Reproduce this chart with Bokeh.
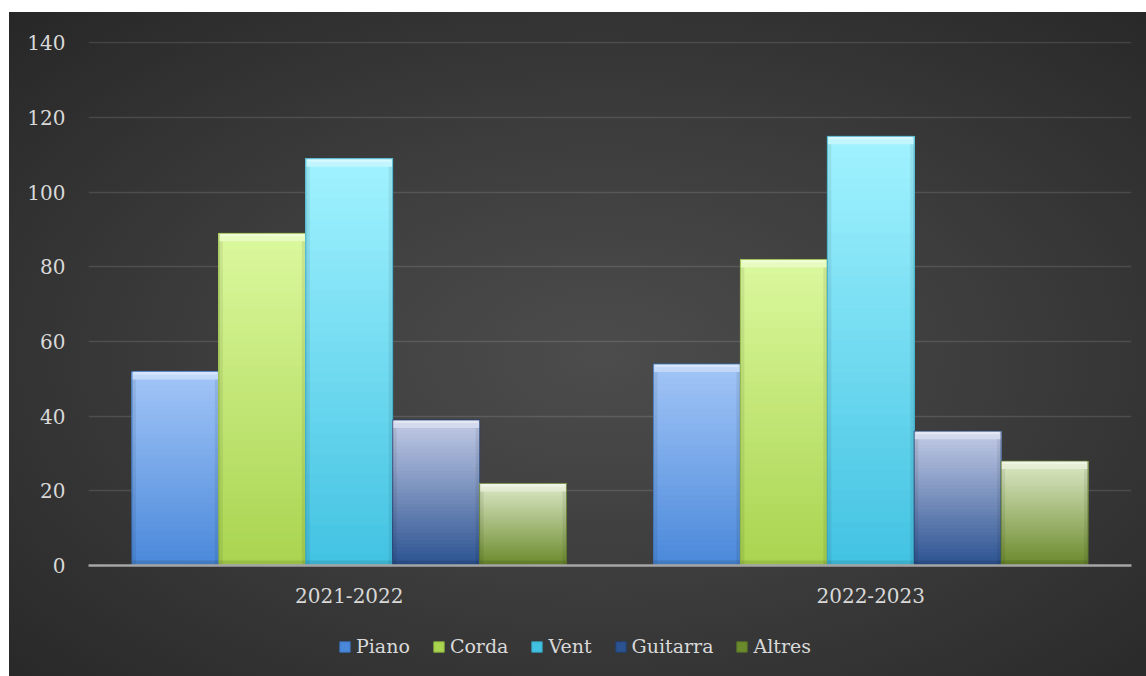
from bokeh.plotting import figure
from bokeh.models import (FactorRange, Range1d, ColumnDataSource, Legend, LegendItem,
                          FixedTicker, Spacer)
from bokeh.transform import dodge
from bokeh.layouts import column, row
from bokeh.embed import file_html
from bokeh.resources import INLINE

# ---- data ----
categories = ["2021-2022", "2022-2023"]
series_names = ["Piano", "Corda", "Vent", "Guitarra", "Altres"]
piano = [52, 54]
corda = [89, 82]
vent = [109, 115]
guitarra = [39, 36]
altres = [22, 28]
y_ticks = [0, 20, 40, 60, 80, 100, 120, 140]

series_values = [piano, corda, vent, guitarra, altres]
# (top colour, bottom colour) of each series' gradient
top_colors = ["#a3c6f7", "#dbf89e", "#a2f3ff", "#c3cce6", "#dde9c8"]
bottom_colors = ["#4a88da", "#a9d44f", "#42c2e2", "#2b5291", "#6b8a2c"]
edge_colors = ["#3a6fb5", "#8aae3e", "#34a0bb", "#22406f", "#56702a"]

FONT = "DejaVu Serif"
TEXT_COLOR = "#d9d9d9"
W = 1137


def hex2rgb(h):
    h = h.lstrip("#")
    return tuple(int(h[i:i + 2], 16) for i in (0, 2, 4))


def mix(c1, c2, t):
    a, b = hex2rgb(c1), hex2rgb(c2)
    return "#%02x%02x%02x" % tuple(int(round(a[i] + (b[i] - a[i]) * t)) for i in range(3))


p = figure(width=W, height=608, x_range=FactorRange(factors=categories, range_padding=0),
           y_range=Range1d(0, 140.4), output_backend="svg", toolbar_location=None,
           min_border_left=79, min_border_right=15, min_border_top=29, min_border_bottom=55)
p.border_fill_color = None
p.background_fill_color = None
p.outline_line_color = None

bar_w = 1.0 / 6.0
offsets = [-2 * bar_w, -bar_w, 0.0, bar_w, 2 * bar_w]
N = 40
px_per_unit = 524.0 / 140.4
bevel_top = 8.0 / px_per_unit
bevel_hi = 3.0 / px_per_unit
bevel_bottom = 5.0 / px_per_unit
side_w = bar_w * 4.0 / 87.0

for j, name in enumerate(series_names):
    vals = series_values[j]
    off = offsets[j]
    base_src = ColumnDataSource(dict(x=categories, top=vals))
    p.vbar(x=dodge("x", off, range=p.x_range), top="top", bottom=0, width=bar_w,
           source=base_src, fill_color=bottom_colors[j], line_color=None)

    # gradient: overlapping slices, each from its start up to the bar top
    xs, bots, tops, cols = [], [], [], []
    for i, cat in enumerate(categories):
        v = vals[i]
        for k in range(N):
            t = (k + 0.5) / N
            xs.append(cat)
            bots.append(v * k / N)
            tops.append(v)
            cols.append(mix(bottom_colors[j], top_colors[j], t))
    sl = ColumnDataSource(dict(x=xs, bottom=bots, top=tops, color=cols))
    p.vbar(x=dodge("x", off, range=p.x_range), top="top", bottom="bottom", width=bar_w,
           source=sl, fill_color="color", line_color=None)

    # bevels
    bev_src = ColumnDataSource(dict(x=categories, top=vals,
                                    btop=[v - bevel_top for v in vals],
                                    htop=[v - bevel_hi for v in vals]))
    p.vbar(x=dodge("x", off, range=p.x_range), top="top", bottom="btop", width=bar_w,
           source=bev_src, fill_color="white", fill_alpha=0.35, line_color=None)
    p.vbar(x=dodge("x", off, range=p.x_range), top="top", bottom="htop", width=bar_w * 0.96,
           source=bev_src, fill_color="white", fill_alpha=0.35, line_color=None)
    p.vbar(x=dodge("x", off, range=p.x_range), top=bevel_bottom, bottom=0, width=bar_w,
           source=bev_src, fill_color="black", fill_alpha=0.10, line_color=None)
    for s in (-1, 1):
        p.vbar(x=dodge("x", off + s * (bar_w / 2 - side_w / 2), range=p.x_range),
               top="btop", bottom=0, width=side_w, source=bev_src,
               fill_color="black", fill_alpha=0.07, line_color=None)
    p.vbar(x=dodge("x", off, range=p.x_range), top="top", bottom=0, width=bar_w,
           source=bev_src, fill_color=None, line_color=edge_colors[j], line_width=1,
           line_alpha=0.8)

# axes
p.yaxis.ticker = FixedTicker(ticks=y_ticks)
p.yaxis.axis_line_color = None
p.yaxis.major_tick_line_color = None
p.yaxis.minor_tick_line_color = None
p.yaxis.major_label_standoff = 17
p.yaxis.major_label_text_font = FONT
p.yaxis.major_label_text_font_size = "20px"
p.yaxis.major_label_text_color = TEXT_COLOR

p.xaxis.axis_line_color = "#a6a6a6"
p.xaxis.axis_line_width = 2.5
p.xaxis.major_tick_line_color = None
p.xaxis.minor_tick_line_color = None
p.xaxis.major_label_standoff = 16
p.xaxis.major_label_text_font = FONT
p.xaxis.major_label_text_font_size = "20px"
p.xaxis.major_label_text_color = TEXT_COLOR

p.xgrid.grid_line_color = None
p.ygrid.grid_line_color = "white"
p.ygrid.grid_line_alpha = 0.12
p.ygrid.grid_line_width = 1.5

# ---- legend strip ----
lg = figure(width=W, height=56, x_range=Range1d(0, W), y_range=Range1d(0, 56),
            output_backend="svg", toolbar_location=None,
            x_axis_location=None, y_axis_location=None,
            min_border=0, min_border_left=0, min_border_right=0, min_border_top=0,
            min_border_bottom=0)
lg.grid.visible = False
lg.border_fill_color = None
lg.background_fill_color = None
lg.outline_line_color = None
items = []
for j, name in enumerate(series_names):
    # a zero-height bar outside the visible range, used only for the legend swatch
    r = lg.vbar(x=[-100], top=[0], width=1, fill_color=bottom_colors[j],
                line_color=edge_colors[j], line_width=1)
    items.append(LegendItem(label=name, renderers=[r], index=0))
legend = Legend(items=items, orientation="horizontal", location=(250, 19),
                label_text_font=FONT, label_text_font_size="19px", label_text_color=TEXT_COLOR,
                glyph_width=13, glyph_height=13, label_standoff=5, spacing=22,
                background_fill_alpha=0, border_line_color=None, padding=0, margin=0)
lg.add_layout(legend)

chart = column(p, lg, spacing=0)
chart.styles = {"background": "radial-gradient(ellipse farthest-corner at 52% 52%, #4c4c4c 0%, #3d3d3d 45%, #272727 100%)"}

layout = column(Spacer(height=12), row(Spacer(width=9), chart))
open("out.html", "w").write(file_html(layout, INLINE))
